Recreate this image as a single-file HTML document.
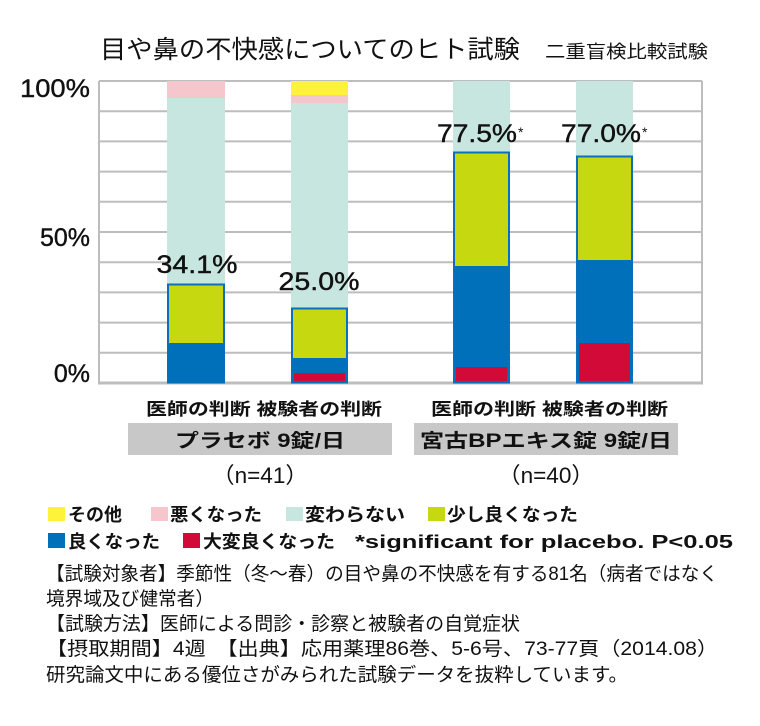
<!DOCTYPE html>
<html><head><meta charset="utf-8"><style>
html,body{margin:0;padding:0;background:#fff;}
svg{display:block;}
text{font-family:"Liberation Sans","Noto Sans CJK JP",sans-serif;fill:#111;}
</style></head><body>
<svg width="760" height="726" viewBox="0 0 760 726">
<text x="100" y="58" font-size="25" textLength="420" lengthAdjust="spacingAndGlyphs">目や鼻の不快感についてのヒト試験</text>
<text x="545" y="58" font-size="18" textLength="163" lengthAdjust="spacingAndGlyphs">二重盲検比較試験</text>

<g stroke="#bdbdbd" stroke-width="2">
<line x1="99" y1="81" x2="702" y2="81"/>
<line x1="99" y1="111.2" x2="702" y2="111.2"/>
<line x1="99" y1="141.4" x2="702" y2="141.4"/>
<line x1="99" y1="171.6" x2="702" y2="171.6"/>
<line x1="99" y1="201.8" x2="702" y2="201.8"/>
<line x1="99" y1="232" x2="702" y2="232"/>
<line x1="99" y1="262.2" x2="702" y2="262.2"/>
<line x1="99" y1="292.4" x2="702" y2="292.4"/>
<line x1="99" y1="322.6" x2="702" y2="322.6"/>
<line x1="99" y1="352.8" x2="702" y2="352.8"/>
<line x1="99" y1="81" x2="99" y2="384"/>
<line x1="702" y1="81" x2="702" y2="384"/>
</g>
<line x1="98" y1="383" x2="703" y2="383" stroke="#bdbdbd" stroke-width="3"/>

<text x="90" y="97" font-size="25" text-anchor="end" stroke="#111" stroke-width="0.4" textLength="70" lengthAdjust="spacingAndGlyphs">100%</text>
<text x="90" y="246" font-size="25" text-anchor="end" stroke="#111" stroke-width="0.4">50%</text>
<text x="90" y="382" font-size="25" text-anchor="end" stroke="#111" stroke-width="0.4">0%</text>

<rect x="167" y="81" width="58" height="17" fill="#f5c6cc"/>
<rect x="167" y="98" width="58" height="186" fill="#c8e6e0"/>
<rect x="168" y="284.5" width="56" height="98" fill="#c6d80f" stroke="#0a6fc0" stroke-width="2"/>
<rect x="168" y="343" width="56" height="40" fill="#0070bb"/>
<rect x="291" y="81" width="57" height="14" fill="#fff23a"/>
<rect x="291" y="95" width="57" height="8" fill="#f5c6cc"/>
<rect x="291" y="103" width="57" height="205" fill="#c8e6e0"/>
<rect x="292" y="308.5" width="55" height="74" fill="#c6d80f" stroke="#0a6fc0" stroke-width="2"/>
<rect x="292" y="358" width="55" height="25" fill="#0070bb"/>
<rect x="294" y="373" width="51" height="8" fill="#d20a37"/>
<rect x="453" y="81" width="57" height="71" fill="#c8e6e0"/>
<rect x="454" y="152.5" width="55" height="230" fill="#c6d80f" stroke="#0a6fc0" stroke-width="2"/>
<rect x="454" y="266" width="55" height="117" fill="#0070bb"/>
<rect x="456" y="367" width="51" height="14" fill="#d20a37"/>
<rect x="576" y="81" width="57" height="75" fill="#c8e6e0"/>
<rect x="577" y="156.5" width="55" height="226" fill="#c6d80f" stroke="#0a6fc0" stroke-width="2"/>
<rect x="577" y="260" width="55" height="123" fill="#0070bb"/>
<rect x="579" y="343" width="51" height="38" fill="#d20a37"/>

<g stroke="#111" stroke-width="0.4">
<text x="197" y="273" font-size="25" text-anchor="middle" textLength="81" lengthAdjust="spacingAndGlyphs">34.1%</text>
<text x="319" y="290" font-size="25" text-anchor="middle" textLength="81" lengthAdjust="spacingAndGlyphs">25.0%</text>
<text x="437" y="142" font-size="25" textLength="80" lengthAdjust="spacingAndGlyphs">77.5%</text>
<text x="561" y="142" font-size="25" textLength="80" lengthAdjust="spacingAndGlyphs">77.0%</text>
</g>
<text x="518" y="137" font-size="14">*</text>
<text x="642" y="137" font-size="14">*</text>

<text x="146" y="415" font-size="17" font-weight="bold" textLength="236" lengthAdjust="spacingAndGlyphs">医師の判断  被験者の判断</text>
<text x="431" y="415" font-size="17" font-weight="bold" textLength="237" lengthAdjust="spacingAndGlyphs">医師の判断  被験者の判断</text>
<rect x="128" y="423" width="264" height="32" fill="#c8c8c8"/>
<rect x="414" y="423" width="264" height="32" fill="#c8c8c8"/>
<text x="260" y="447" font-size="19" font-weight="bold" text-anchor="middle" textLength="170" lengthAdjust="spacingAndGlyphs">プラセボ 9錠/日</text>
<text x="546" y="447" font-size="19" font-weight="bold" text-anchor="middle" textLength="252" lengthAdjust="spacingAndGlyphs">宮古BPエキス錠 9錠/日</text>
<text x="260" y="483" font-size="22" text-anchor="middle" textLength="96" lengthAdjust="spacingAndGlyphs">（n=41）</text>
<text x="546" y="483" font-size="22" text-anchor="middle" textLength="96" lengthAdjust="spacingAndGlyphs">（n=40）</text>

<rect x="48" y="507" width="17" height="14" fill="#fff23a"/>
<text x="68" y="521" font-size="18" font-weight="bold">その他</text>
<rect x="151" y="507" width="17" height="14" fill="#f5c6cc"/>
<text x="170" y="521" font-size="18" font-weight="bold" textLength="92" lengthAdjust="spacingAndGlyphs">悪くなった</text>
<rect x="286" y="507" width="17" height="14" fill="#c8e6e0"/>
<text x="305" y="521" font-size="18" font-weight="bold" textLength="100" lengthAdjust="spacingAndGlyphs">変わらない</text>
<rect x="428" y="507" width="17" height="14" fill="#c6d80f"/>
<text x="447" y="521" font-size="18" font-weight="bold" textLength="131" lengthAdjust="spacingAndGlyphs">少し良くなった</text>
<rect x="48" y="533" width="17" height="15" fill="#0070bb"/>
<text x="68" y="548" font-size="18" font-weight="bold" textLength="92" lengthAdjust="spacingAndGlyphs">良くなった</text>
<rect x="183" y="533" width="17" height="15" fill="#d20a37"/>
<text x="203" y="548" font-size="18" font-weight="bold" textLength="132" lengthAdjust="spacingAndGlyphs">大変良くなった</text>
<text x="355" y="548" font-size="18" font-weight="bold" textLength="378" lengthAdjust="spacingAndGlyphs">*significant for placebo. P&lt;0.05</text>

<text x="46" y="580" font-size="19" textLength="672" lengthAdjust="spacingAndGlyphs">【試験対象者】季節性（冬～春）の目や鼻の不快感を有する81名（病者ではなく</text>
<text x="46" y="605" font-size="19" textLength="168" lengthAdjust="spacingAndGlyphs">境界域及び健常者）</text>
<text x="46" y="630" font-size="19" textLength="474" lengthAdjust="spacingAndGlyphs">【試験方法】医師による問診・診察と被験者の自覚症状</text>
<text x="46" y="655" font-size="19" textLength="672" lengthAdjust="spacingAndGlyphs">【摂取期間】4週　【出典】応用薬理86巻、5-6号、73-77頁（2014.08）</text>
<text x="46" y="681" font-size="19" textLength="582" lengthAdjust="spacingAndGlyphs">研究論文中にある優位さがみられた試験データを抜粋しています。</text>
</svg>
</body></html>
